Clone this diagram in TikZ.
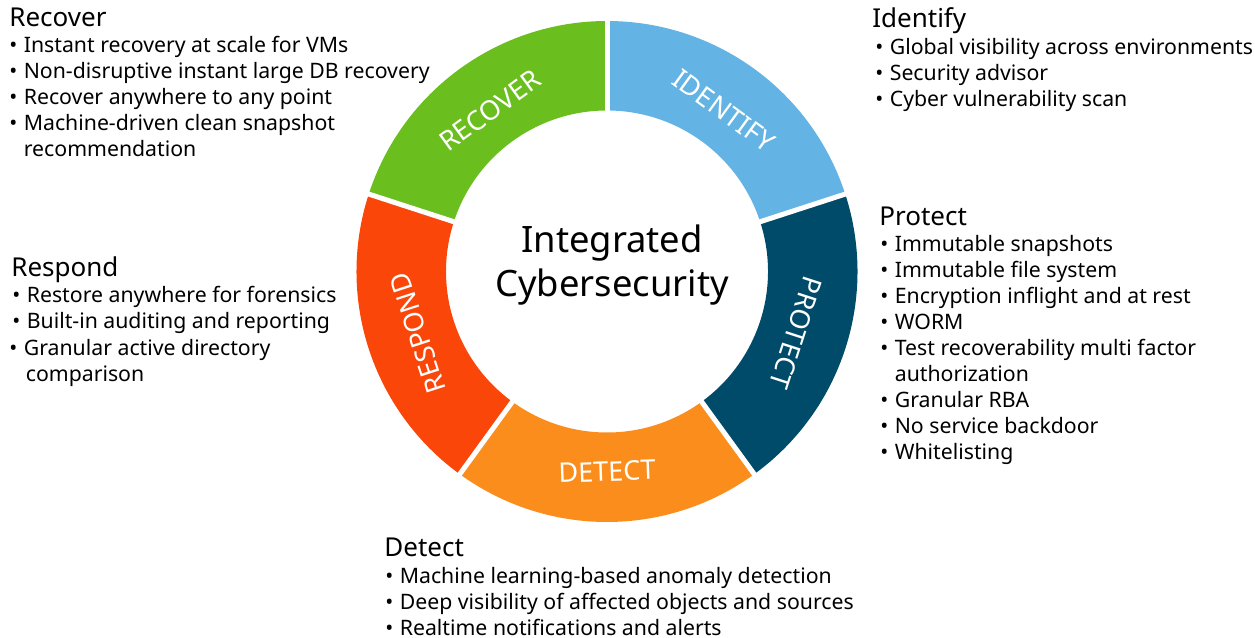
\documentclass[tikz,border=0pt]{standalone}
\usepackage{fontspec}
\setmainfont{Noto Sans}

\definecolor{recovergreen}{HTML}{6ABF1F}
\definecolor{identifyblue}{HTML}{63B4E4}
\definecolor{protectteal}{HTML}{004B69}
\definecolor{detectorange}{HTML}{FB8D1C}
\definecolor{respondred}{HTML}{FA4608}

\newcommand{\bul}{\makebox[0.29cm][l]{•}}
\newcommand{\nobul}{\hspace*{0.29cm}}

\tikzset{
  head/.style={anchor=base west, inner sep=0pt, font=\fontsize{14.8}{17}\selectfont},
  item/.style={anchor=base west, inner sep=0pt, font=\fontsize{12.1}{14}\selectfont},
  seglabel/.style={white, inner sep=0pt, font=\fontsize{15.4}{18}\selectfont},
  gap/.style={white, line width=0.1cm},
}

\begin{document}
\begin{tikzpicture}[x=0.02cm, y=0.02cm]
    \useasboundingbox (0,-638) rectangle (1255,0);
    % ── ring of the five functions ──────────────────────
    \begin{scope}[shift={(607,-271.5)}]
        \fill[recovergreen] (90:250.5) arc[start angle=90, end angle=162, radius=250.5]
            -- (162:161) arc[start angle=162, end angle=90, radius=161] -- cycle;
        \fill[identifyblue] (18:250.5) arc[start angle=18, end angle=90, radius=250.5]
            -- (90:161) arc[start angle=90, end angle=18, radius=161] -- cycle;
        \fill[protectteal] (-54:250.5) arc[start angle=-54, end angle=18, radius=250.5]
            -- (18:161) arc[start angle=18, end angle=-54, radius=161] -- cycle;
        \fill[detectorange] (-126:250.5) arc[start angle=-126, end angle=-54, radius=250.5]
            -- (-54:161) arc[start angle=-54, end angle=-126, radius=161] -- cycle;
        \fill[respondred] (162:250.5) arc[start angle=162, end angle=234, radius=250.5]
            -- (234:161) arc[start angle=234, end angle=162, radius=161] -- cycle;
        % white gaps between the segments
        \draw[gap] (90:155) -- (90:256);
        \draw[gap] (18:155) -- (18:256);
        \draw[gap] (-54:155) -- (-54:256);
        \draw[gap] (-126:155) -- (-126:256);
        \draw[gap] (162:155) -- (162:256);
        % segment names
        \node[seglabel, rotate=36] (recoverlbl) at (126:199) {RECOVER};
        \node[seglabel, rotate=-36] (identifylbl) at (54:199) {IDENTIFY};
        \node[seglabel, rotate=-108] (protectlbl) at (-18:199) {PROTECT};
        \node[seglabel, rotate=2] (detectlbl) at (-90:200) {DETECT};
        \node[seglabel, rotate=108] (respondlbl) at (198:199) {RESPOND};
    \end{scope}
    % ── centre title ────────────────────────────────────
    \node[anchor=base, inner sep=0pt, font=\fontsize{20.7}{24}\selectfont] (title1) at (612,-253) {Integrated};
    \node[anchor=base, inner sep=0pt, font=\fontsize{20.7}{24}\selectfont] (title2) at (612,-297) {Cybersecurity};
    % ── Recover ─────────────────────────────────────────
    \node[head] (rchead) at (9,-27) {Recover};
    \node[item] (rc1) at (9,-53) {\bul Instant recovery at scale for VMs};
    \node[item] (rc2) at (9,-79) {\bul Non-disruptive instant large DB recovery};
    \node[item] (rc3) at (9,-105) {\bul Recover anywhere to any point};
    \node[item] (rc4) at (9,-131) {\bul Machine-driven clean snapshot};
    \node[item] (rc5) at (9,-157) {\nobul recommendation};
    % ── Identify ────────────────────────────────────────
    \node[head] (idhead) at (872,-28) {Identify};
    \node[item] (id1) at (875,-55) {\bul Global visibility across environments};
    \node[item] (id2) at (875,-81) {\bul Security advisor};
    \node[item] (id3) at (875,-107) {\bul Cyber vulnerability scan};
    % ── Protect ─────────────────────────────────────────
    \node[head] (pthead) at (879,-226) {Protect};
    \node[item] (pt1) at (880,-252) {\bul Immutable snapshots};
    \node[item] (pt2) at (880,-278) {\bul Immutable file system};
    \node[item] (pt3) at (880,-304) {\bul Encryption inflight and at rest};
    \node[item] (pt4) at (880,-330) {\bul WORM};
    \node[item] (pt5) at (880,-356) {\bul Test recoverability multi factor};
    \node[item] (pt6) at (880,-382) {\nobul authorization};
    \node[item] (pt7) at (880,-408) {\bul Granular RBA};
    \node[item] (pt8) at (880,-434) {\bul No service backdoor};
    \node[item] (pt9) at (880,-460) {\bul Whitelisting};
    % ── Respond ─────────────────────────────────────────
    \node[head] (rshead) at (11,-277) {Respond};
    \node[item] (rs1) at (12,-303) {\bul Restore anywhere for forensics};
    \node[item] (rs2) at (12,-329) {\bul Built-in auditing and reporting};
    \node[item] (rs3) at (9,-356) {\bul Granular active directory};
    \node[item] (rs4) at (11,-382) {\nobul comparison};
    % ── Detect ──────────────────────────────────────────
    \node[head] (dthead) at (384,-557) {Detect};
    \node[item] (dt1) at (385,-583) {\bul Machine learning-based anomaly detection};
    \node[item] (dt2) at (385,-609) {\bul Deep visibility of affected objects and sources};
    \node[item] (dt3) at (385,-635) {\bul Realtime notifications and alerts};
\end{tikzpicture}
\end{document}
